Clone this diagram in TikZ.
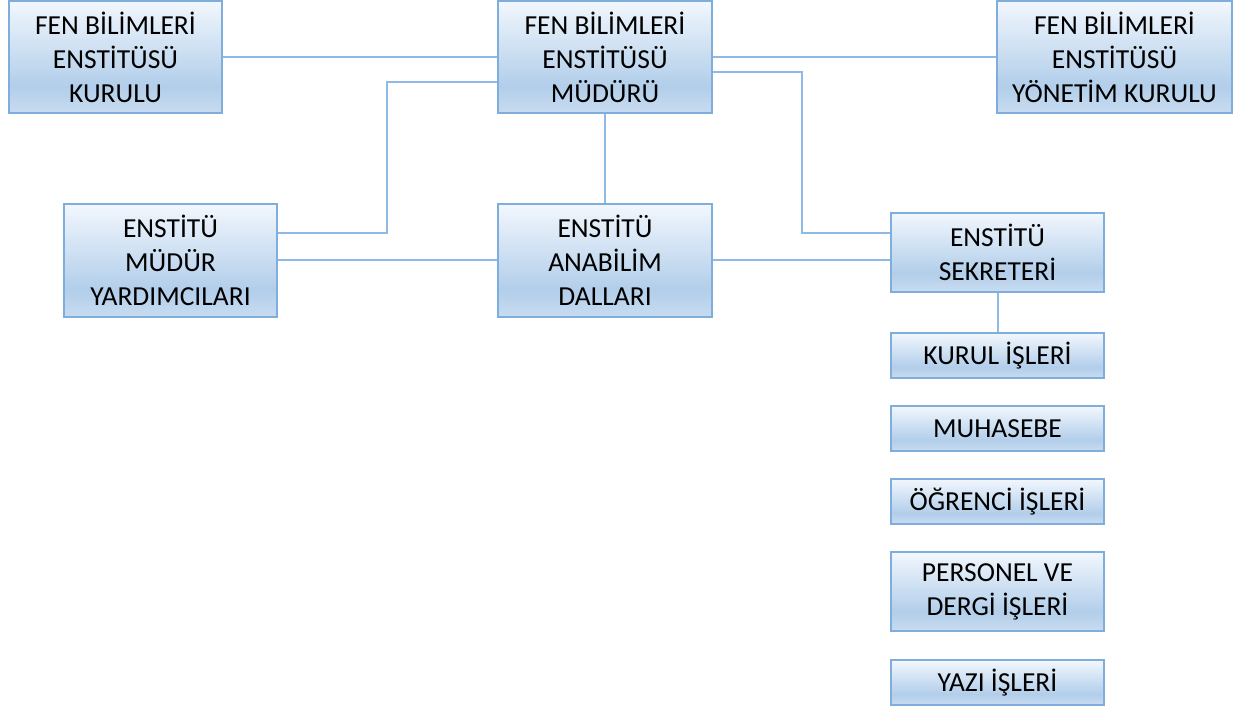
\documentclass[tikz,border=0pt]{standalone}
\usepackage{fontspec}
\setmainfont{Carlito}
\definecolor{boxtop}{HTML}{F2F7FD}
\definecolor{boxmid}{HTML}{B2CEEA}
\definecolor{boxbot}{HTML}{C8DCF0}
\definecolor{boxedge}{HTML}{7FAEDD}
\definecolor{linkcol}{HTML}{8DBAE6}
\pgfdeclareverticalshading{boxshade}{100bp}{color(0bp)=(boxbot); color(25bp)=(boxbot); color(37bp)=(boxmid); color(75bp)=(boxtop); color(100bp)=(boxtop)}
\newcommand{\boxfont}{\fontsize{27.5pt}{34pt}\selectfont}
\tikzset{
  box/.style={draw=boxedge, line width=1.3pt, shading=boxshade, rectangle,
    minimum width=213pt, inner sep=0pt, align=center,
    font=\boxfont, text=black},
  link/.style={draw=linkcol, line width=2pt}
}
\begin{document}
\begin{tikzpicture}[x=1pt,y=1pt]
\useasboundingbox (0,0) rectangle (1234,-708);
\node[box, minimum height=112pt] (kurulu) at (115.5,-57) {FEN BİLİMLERİ\\ENSTİTÜSÜ\\KURULU};
\node[box, minimum width=214pt, minimum height=112pt] (mudur) at (605,-57) {FEN BİLİMLERİ\\ENSTİTÜSÜ\\MÜDÜRÜ};
\node[box, minimum width=235pt, minimum height=112pt] (yonetim) at (1114.5,-57) {FEN BİLİMLERİ\\ENSTİTÜSÜ\\YÖNETİM KURULU};
\node[box, minimum height=113pt] (yard) at (170.5,-260.5) {ENSTİTÜ\\MÜDÜR\\YARDIMCILARI};
\node[box, minimum width=214pt, minimum height=113pt] (anabilim) at (605,-260.5) {ENSTİTÜ\\ANABİLİM\\DALLARI};
\node[box, minimum height=79pt] (sekreter) at (997.5,-252.5) {ENSTİTÜ\\SEKRETERİ};
\node[box, minimum height=45pt] (kurul) at (997.5,-355.5) {KURUL İŞLERİ};
\node[box, minimum height=45pt] (muhasebe) at (997.5,-428.5) {MUHASEBE};
\node[box, minimum height=45pt] (ogrenci) at (997.5,-501.5) {ÖĞRENCİ İŞLERİ};
\node[box, minimum height=79pt] (personel) at (997.5,-591.5) {PERSONEL VE\\DERGİ İŞLERİ};
\node[box, minimum height=45pt] (yazi) at (997.5,-682.5) {YAZI İŞLERİ};

\draw[link] (kurulu) -- (mudur);
\draw[link] (mudur) -- (yonetim);
\draw[link] ([yshift=-15pt]mudur.east) -- ++(89,0) |- ([yshift=19.5pt]sekreter.west);
\draw[link] ([yshift=-25pt]mudur.west) -- ++(-110,0) |- ([yshift=27.5pt]yard.east);
\draw[link] (mudur.south) -- (anabilim.north);
\draw[link] (yard) -- (anabilim);
\draw[link] (anabilim.east) -- (anabilim.east -| sekreter.west);
\draw[link] (sekreter.south) -- (kurul.north);
\end{tikzpicture}
\end{document}
